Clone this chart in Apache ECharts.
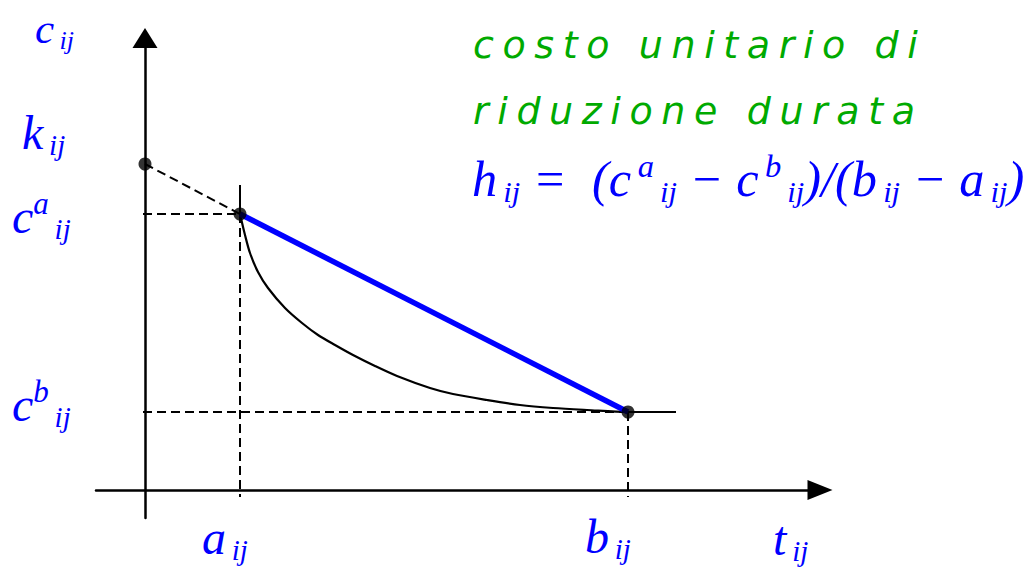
<!DOCTYPE html>
<html>
<head>
<meta charset="utf-8">
<script src="https://cdn.jsdelivr.net/npm/echarts/dist/echarts.min.js"></script>
<style>html,body{margin:0;padding:0;background:#fff}#c{width:1030px;height:567px}</style>
</head>
<body>
<div id="c"></div>
<script>
// ---- data (abstract units) ----
const kij = 3.26;       // intercept k_ij
const aij = 0.95;       // crash duration a_ij
const bij = 4.83;       // normal duration b_ij
const caij = 2.76;      // cost at a_ij
const cbij = 0.78;      // cost at b_ij
const curveT = [0.95, 1.00, 1.05, 1.13, 1.23, 1.40, 1.57, 1.73, 1.90, 2.08, 2.30, 2.52, 2.85, 3.08, 3.42, 3.75, 4.08, 4.42, 4.83, 5.31];
const curveC = [2.76, 2.55, 2.37, 2.18, 2.02, 1.82, 1.67, 1.55, 1.45, 1.35, 1.24, 1.14, 1.02, 0.96, 0.90, 0.85, 0.82, 0.80, 0.78, 0.78];
const tickTop = 3.05;   // top of the solid tick above a_ij
const axisLow = -0.07;  // dashed drop lines end slightly below t axis
const axisLeft = -0.02;
const titleLines = ['costo unitario di', 'riduzione durata'];

const BLUE = '#0000ff', GREEN = '#00aa00';
const serif = 'Liberation Serif';
const TS = '\u2009';

function rich(s) {
  return {
    m: {fontFamily: serif, fontStyle: 'italic', fontSize: 48 * s, lineHeight: 66 * s, verticalAlign: 'middle', fill: BLUE},
    p: {fontFamily: serif, fontStyle: 'italic', fontSize: 31 * s, padding: [0, 0, 25 * s, 0], verticalAlign: 'middle', fill: BLUE},
    s: {fontFamily: serif, fontStyle: 'italic', fontSize: 29 * s, padding: [26 * s, 0, 0, 0], verticalAlign: 'middle', fill: BLUE}
  };
}
function label(x, y, text, s) {
  return {type: 'text', x: x, y: y, z: 10, style: {text: text, rich: rich(s || 1), fill: BLUE, align: 'left', verticalAlign: 'top'}};
}

const chart = echarts.init(document.getElementById('c'), null, {renderer: 'svg'});
const pts = (xs, ys) => xs.map((x, i) => [x, ys[i]]);
const dash = {color: '#000', width: 2, type: [9, 5]};
function seg(data, ls) {
  return {type: 'line', data: data, symbol: 'none', lineStyle: ls, silent: true, animation: false};
}

chart.setOption({
  animation: false,
  backgroundColor: '#fff',
  grid: {left: 96, right: 210, top: 38, bottom: 49, containLabel: false},
  xAxis: {
    type: 'value', min: -0.49, max: 6.75,
    axisLine: {onZero: true, symbol: ['none', 'triangle'], symbolSize: [20, 25], lineStyle: {color: '#000', width: 2.5}},
    axisTick: {show: false}, axisLabel: {show: false}, splitLine: {show: false}
  },
  yAxis: {
    type: 'value', min: -0.28, max: 4.52,
    axisLine: {onZero: true, symbol: ['none', 'triangle'], symbolSize: [25, 20], lineStyle: {color: '#000', width: 2.5}},
    axisTick: {show: false}, axisLabel: {show: false}, splitLine: {show: false}
  },
  series: [
    seg([[0, kij], [aij, caij]], dash),
    seg([[axisLeft, caij], [aij, caij]], dash),
    seg([[axisLeft, cbij], [bij, cbij]], dash),
    seg([[aij, caij], [aij, axisLow]], dash),
    seg([[bij, cbij], [bij, axisLow]], dash),
    seg([[aij, tickTop], [aij, caij]], {color: '#000', width: 2}),
    {type: 'line', data: pts(curveT, curveC), smooth: 0.3, symbol: 'none', lineStyle: {color: '#000', width: 2.2}, silent: true},
    seg([[aij, caij], [bij, cbij]], {color: BLUE, width: 5.5}),
    {type: 'scatter', data: [[0, kij], [aij, caij], [bij, cbij]], symbolSize: 13, itemStyle: {color: '#000'}, silent: true, z: 5}
  ],
  graphic: [
    label(35, -1, '{m|c}{s|' + TS + 'ij}', 0.9),
    label(22, 99, '{m|k}{s|' + TS + 'ij}'),
    label(12, 183, '{m|c}{p|a}{s|' + TS + 'ij}'),
    label(12, 371, '{m|c}{p|b}{s|' + TS + 'ij}'),
    label(202, 504, '{m|a}{s|' + TS + 'ij}'),
    label(585, 503, '{m|b}{s|' + TS + 'ij}'),
    label(773, 505, '{m|t}{s|' + TS + 'ij}'),
    label(472, 144, '{m|h}{s|' + TS + 'ij}{m| =  (c}{p|' + TS + 'a}{s|' + TS + 'ij}{m| − c}{p|' + TS + 'b}{s|' + TS + 'ij}{m|)/(b}{s|' + TS + 'ij}{m| − a}{s|' + TS + 'ij}{m|)}', 1.05),
    {type: 'text', x: 473, y: 63.5, z: 10, style: {text: titleLines[0], fontFamily: 'DejaVu Sans', fontStyle: 'italic', fontSize: 38, fill: GREEN, align: 'left', verticalAlign: 'bottom'}},
    {type: 'text', x: 473, y: 129.5, z: 10, style: {text: titleLines[1], fontFamily: 'DejaVu Sans', fontStyle: 'italic', fontSize: 38, fill: GREEN, align: 'left', verticalAlign: 'bottom'}}
  ]
});

function spaceTitle() {
  const texts = document.querySelectorAll('#c svg text');
  texts.forEach(t => {
    const s = t.textContent || '';
    if (s.indexOf('costo') >= 0 || s.indexOf('riduzione') >= 0) {
      t.setAttribute('letter-spacing', '8.6');
      t.style.letterSpacing = '8.6px';
    }
  });
}
spaceTitle();
chart.on('finished', spaceTitle);
</script>
</body>
</html>
